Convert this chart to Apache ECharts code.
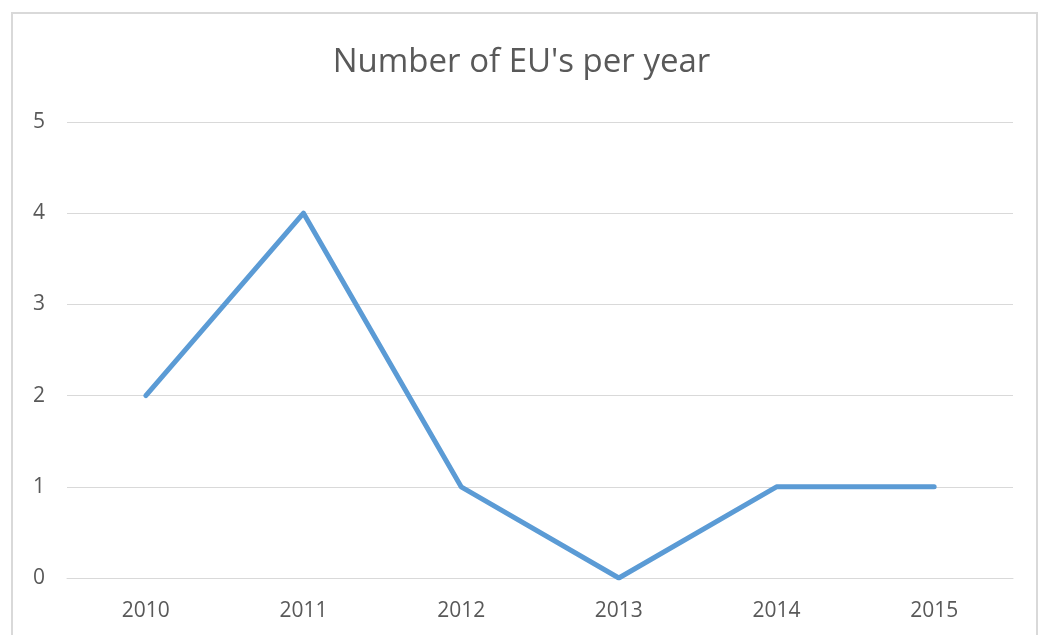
<!DOCTYPE html>
<html><head><meta charset="utf-8">
<script src="https://cdn.jsdelivr.net/npm/echarts@6/dist/echarts.min.js"></script>
<style>html,body{margin:0;padding:0;background:#fff}#c{width:1043px;height:635px}</style>
</head><body><div id="c"></div>
<script>
const categories = ['2010','2011','2012','2013','2014','2015'];
const values = [2, 4, 1, 0, 1, 1];
const titleText = "Number of EU's per year";
const chart = echarts.init(document.getElementById('c'));
const font = "'Open Sans', 'Noto Sans', sans-serif";
chart.setOption({
  backgroundColor: '#fff',
  animation: false,
  graphic: [{type:'rect', shape:{x:12,y:13,width:1025,height:640}, style:{fill:'none', stroke:'#d9d9d9', lineWidth:2}}],
  title: {text: titleText, left: 'center', top: 41, textStyle:{fontFamily:font, fontSize:33, fontWeight:'normal', color:'#595959'}},
  grid: {left: 67, right: 30, top: 122, bottom: 57},
  xAxis: {type:'category', data: categories, boundaryGap: true,
    axisLine:{lineStyle:{color:'#d9d9d9', width:1}}, axisTick:{show:false},
    axisLabel:{color:'#595959', fontSize:21, fontFamily:font, margin:23}},
  yAxis: {type:'value', min:0, max:5, interval:1,
    axisLine:{show:false}, axisTick:{show:false},
    splitLine:{lineStyle:{color:'#d9d9d9', width:1}},
    axisLabel:{color:'#595959', fontSize:21, fontFamily:font, margin:22}},
  series: [{type:'line', data: values, symbol:'none', lineStyle:{color:'#5b9bd5', width:5, cap:'round', join:'round'}}]
});
</script></body></html>
